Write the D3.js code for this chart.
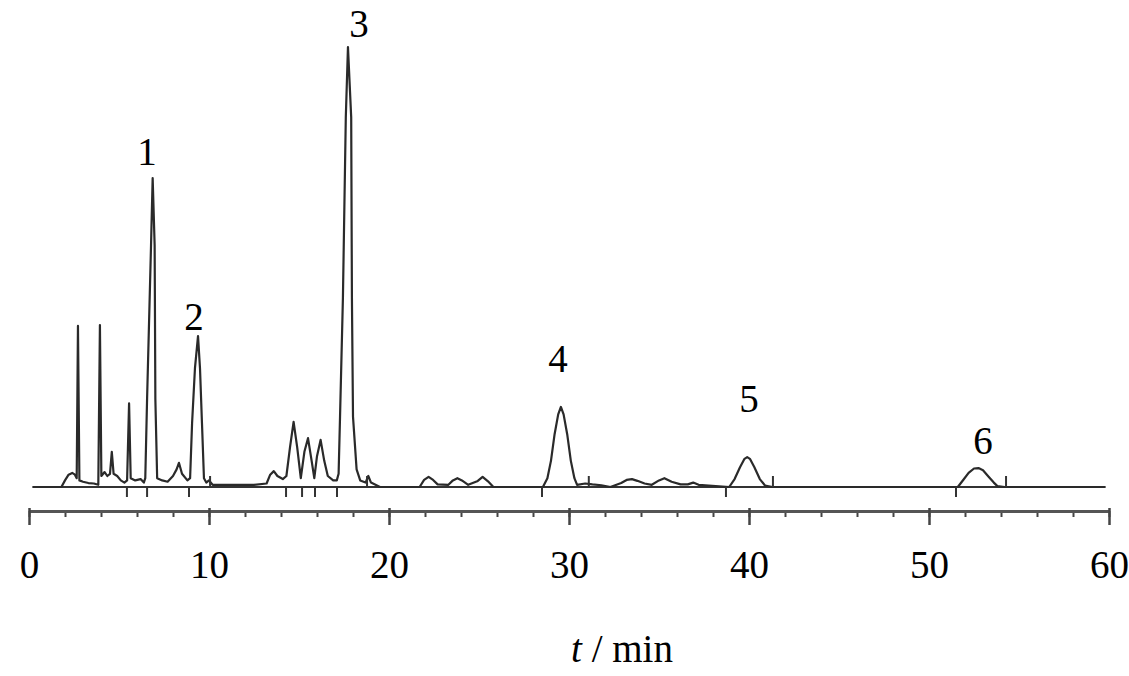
<!DOCTYPE html>
<html><head><meta charset="utf-8">
<script src="https://cdn.jsdelivr.net/npm/d3@7"></script>
<style>
html,body{margin:0;padding:0;background:#fff;}
svg{display:block;}
text{font-family:"Liberation Serif","Times New Roman",serif;fill:#000;}
</style></head>
<body><svg id="c" width="1129" height="676"></svg>
<script>
// Chromatogram trace: [time (min), signal (relative units)]
const traceTime = [0.2,1.8,2.0,2.2,2.4,2.55,2.65,2.72,2.8,3.0,3.3,3.6,3.85,3.94,4.02,4.2,4.35,4.5,4.6,4.7,4.9,5.1,5.3,5.45,5.56,5.65,5.9,6.2,6.38,6.46,6.56,6.78,6.87,6.98,7.02,7.12,7.4,7.7,8.0,8.2,8.33,8.5,8.8,8.95,9.06,9.22,9.39,9.5,9.61,9.72,9.85,10.0,10.2,11.0,12.5,13.2,13.4,13.6,13.8,14.1,14.3,14.5,14.7,14.9,15.1,15.3,15.5,15.7,15.85,16.0,16.2,16.4,16.6,16.9,17.1,17.2,17.28,17.44,17.6,17.72,17.9,17.94,18.0,18.2,18.4,18.7,18.85,19.0,19.5,21.7,21.95,22.2,22.45,22.7,23.3,23.55,23.8,24.05,24.4,24.9,25.2,25.5,25.8,28.55,28.8,29.0,29.2,29.4,29.55,29.7,29.9,30.1,30.3,30.45,30.9,31.3,31.8,32.3,32.9,33.2,33.5,33.8,34.2,34.6,35.0,35.3,35.7,36.2,36.6,36.9,37.2,38.9,39.2,39.5,39.75,39.9,40.05,40.3,40.6,40.9,41.3,51.6,51.9,52.2,52.5,52.75,53.0,53.3,53.6,53.8,54.2,59.8];
const traceSignal = [0,0,1.5,2.8,3.2,2.8,2.0,36.6,1.5,1.2,0.9,0.8,0.5,36.8,2.5,3.4,2.5,3.0,8.0,3.0,2.5,1.5,1.0,1.5,19.0,2.0,1.5,1.8,1.0,2.0,20,55,70.2,55,20,2.0,1.5,1.2,2.5,4.0,5.5,3.0,1.5,2.0,14.5,27,34.3,27,14.5,2.0,1.0,1.5,0.5,0.5,0.5,0.8,2.8,3.6,2.5,1.8,2.5,9.0,14.8,9.0,2.0,8.0,11.1,6.0,2.0,7.0,10.7,6.0,2.5,1.5,1.5,3,16,43,84,100,84,43,16,4,1.5,1.0,2.5,1.0,0,0,1.6,2.3,1.6,0.6,0.5,1.5,2.0,1.5,0.5,1.3,2.3,1.3,0,0,2,6,12,16.5,18.2,16.5,12,6,2,0.5,0.8,0.6,0.4,0,0.9,1.6,1.8,1.4,0.8,0.5,1.5,2.0,1.2,0.6,0.6,1.0,0.5,0,1.8,4.5,6.4,6.8,6.4,4.5,1.8,0.3,0,0,1.6,3.2,4.2,4.3,3.8,2.4,1.0,0.2,0,0];

// Integration markers (min): peak starts (down) and ends (up)
const startMarks = [5.44,6.56,8.89,14.28,15.17,15.89,17.11,28.5,38.72,51.5];
const endMarks = [10.06,18.78,31.1,41.33,54.28];

// Peak labels: text, time, signal level of label baseline
const peakLabels = ["1","2","3","4","5","6"];
const labelTime = [6.56,9.17,18.33,29.39,40.0,53.0];
const labelLevel = [73.2,35.7,102.3,26.1,17.0,7.5];

const majorTicks = [0,10,20,30,40,50,60];
const minorTicks = d3.range(0,61,2);
const xTitle = ["t"," / min"];

const svg = d3.select("#c");
const x = d3.scaleLinear().domain([0,60]).range([29,1109]);
const y = d3.scaleLinear().domain([0,100]).range([487,47]);
const axisY = 511;

const pts = traceTime.map((t,i)=>[t,traceSignal[i]]);
const line = d3.line().x(d=>x(d[0])).y(d=>y(d[1])).curve(d3.curveLinear);

// integration baseline
svg.append("line").attr("x1",x(0.2)).attr("x2",x(59.8)).attr("y1",y(0)).attr("y2",y(0))
  .attr("stroke","#333").attr("stroke-width",2);

svg.append("path").datum(pts).attr("d",line).attr("fill","none")
  .attr("stroke","#2a2a2a").attr("stroke-width",2.2).attr("stroke-linejoin","round");

svg.append("g").selectAll("line").data(startMarks).join("line")
  .attr("x1",d=>x(d)).attr("x2",d=>x(d)).attr("y1",y(0)).attr("y2",y(0)+10)
  .attr("stroke","#333").attr("stroke-width",2);
svg.append("g").selectAll("line").data(endMarks).join("line")
  .attr("x1",d=>x(d)).attr("x2",d=>x(d)).attr("y1",y(0)-11).attr("y2",y(0))
  .attr("stroke","#333").attr("stroke-width",2);

svg.append("g").selectAll("text").data(peakLabels).join("text")
  .attr("x",(d,i)=>x(labelTime[i])).attr("y",(d,i)=>y(labelLevel[i]))
  .attr("text-anchor","middle").attr("font-size",39).text(d=>d);

// minor ticks
const gMinor = svg.append("g").attr("transform",`translate(0,${axisY})`)
  .call(d3.axisBottom(x).tickValues(minorTicks).tickSize(6).tickFormat(""));
gMinor.select(".domain").remove();
gMinor.selectAll(".tick line").attr("stroke","#444").attr("stroke-width",2);

// major ticks + labels
const gMajor = svg.append("g").attr("transform",`translate(0,${axisY})`)
  .call(d3.axisBottom(x).tickValues(majorTicks).tickSizeInner(14).tickSizeOuter(0).tickFormat(d3.format("d")));
gMajor.select(".domain").attr("stroke","#555").attr("stroke-width",3);
gMajor.selectAll(".tick line").attr("stroke","#444").attr("stroke-width",2.5).attr("y1",-3);
gMajor.selectAll(".tick text").attr("y",67).attr("dy",null)
  .attr("font-size",39).attr("font-family","'Liberation Serif','Times New Roman',serif").attr("fill","#000");

const title = svg.append("text").attr("x",622).attr("y",662).attr("text-anchor","middle").attr("font-size",39);
title.append("tspan").attr("font-style","italic").text(xTitle[0]);
title.append("tspan").text(xTitle[1]);
</script></body></html>
